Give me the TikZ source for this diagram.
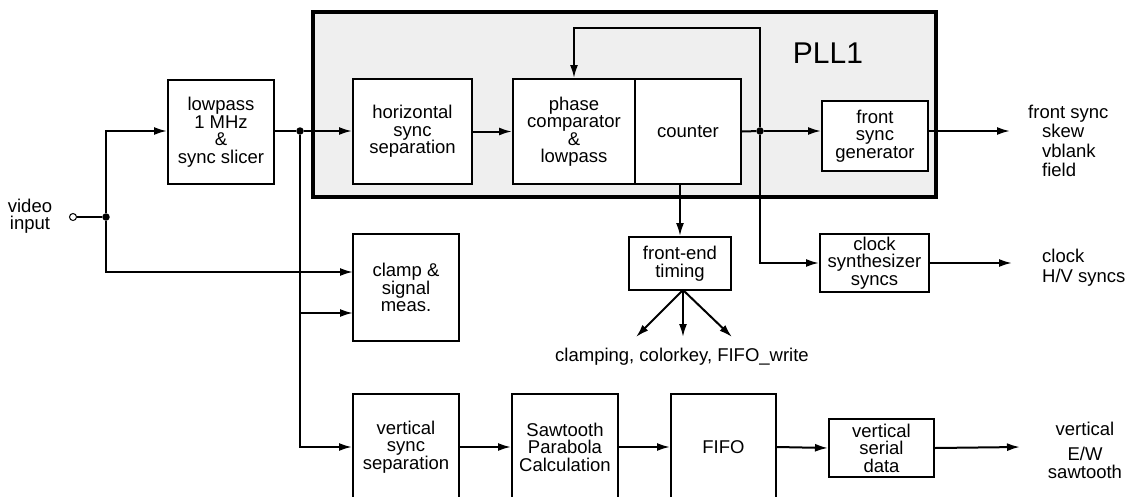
\documentclass[tikz,border=0pt]{standalone}
\usepackage{fontspec}
\setmainfont{Liberation Sans}
\usetikzlibrary{arrows.meta}
\definecolor{pllgray}{HTML}{EFEFEF}
\tikzset{
  blk/.style={draw, line width=2pt, fill=white, inner sep=0pt, align=center,
    font=\fontsize{18.5}{17.5}\selectfont},
  lbl/.style={inner sep=0pt, font=\fontsize{18.5}{17.5}\selectfont},
  wire/.style={line width=2pt},
  arr/.style={wire, -{Latex[length=13pt,width=8pt]}},
  dot/.style={circle, fill=black, inner sep=0pt, minimum size=7.5pt},
}
\begin{document}
\begin{tikzpicture}[x=1pt,y=-1pt]
\useasboundingbox (0,0) rectangle (1141,496);
\clip (0,0) rectangle (1141,496);
% PLL1 frame
\node[draw, line width=3.4pt, fill=pllgray, inner sep=0pt, minimum width=623pt, minimum height=185pt] (pll) at (624.5,104.5) {};
\node[inner sep=0pt, font=\fontsize{30}{30}\selectfont] (plllbl) at (828,53) {PLL1};
% blocks
\node[blk, minimum width=106pt, minimum height=104pt] (lp) at (221,132) {lowpass\\1 MHz\\\&\\sync slicer};
\node[blk, minimum width=119pt, minimum height=105pt] (hs) at (412.5,131.5) {horizontal\\sync\\separation};
\node[blk, minimum width=122pt, minimum height=105pt] (pc) at (574,131.5) {phase\\comparator\\\&\\lowpass};
\node[blk, minimum width=106pt, minimum height=105pt] (cnt) at (688,131.5) {counter};
\node[blk, minimum width=106pt, minimum height=70pt] (fs) at (875,136) {front\\sync\\generator};
\node[blk, minimum width=102pt, minimum height=53pt] (fe) at (680,263.5) {front-end\\timing};
\node[blk, minimum width=109pt, minimum height=58pt] (cs) at (874.5,263) {clock\\synthesizer\\syncs};
\node[blk, minimum width=106pt, minimum height=107pt] (cl) at (406,287.5) {clamp \&\\signal\\meas.};
\node[blk, minimum width=106pt, minimum height=106pt] (vs) at (406,447) {vertical\\sync\\separation};
\node[blk, minimum width=106pt, minimum height=106pt] (saw) at (565,447) {Sawtooth\\Parabola\\Calculation};
\node[blk, minimum width=105pt, minimum height=106pt] (fifo) at (723.5,447) {FIFO};
\node[blk, minimum width=105pt, minimum height=58pt] (vsd) at (881.5,448) {vertical\\serial\\data};
% text labels
\node[lbl, align=center] (vin) at (30,216) {video\\input};
\node[lbl, align=left, anchor=west, font=\fontsize{18.5}{19.4}\selectfont] (fsout) at (1028,141) {front sync\\\hspace*{14pt}skew\\\hspace*{14pt}vblank\\\hspace*{14pt}field};
\node[lbl, align=left, anchor=west, font=\fontsize{18.5}{20}\selectfont] (csout) at (1042,268) {clock\\H/V syncs};
\node[lbl, align=center] (vout) at (1085,450) {vertical\\[8pt]E/W\\sawtooth};
\node[lbl] (feout) at (682,357) {clamping, colorkey, FIFO\_write};
% junctions and coordinates
\node[circle, draw, fill=white, line width=1pt, inner sep=0pt, minimum size=7pt] (inc) at (73,217) {};
\node[dot] (d1) at (106,217) {};
\node[dot] (d2) at (300,131) {};
\node[dot] (d3) at (760,131) {};
\coordinate (clin1) at (353,272);
\coordinate (clin2) at (353,313);
\coordinate (fb) at (760,28);
\coordinate (fan) at (683,290);
\coordinate (t1) at (636,337);
\coordinate (t2) at (683,337);
\coordinate (t3) at (732,337);
\coordinate (o1) at (1010,131);
\coordinate (o2) at (1012,263);
\coordinate (o3) at (1020,447);
% connectors
\draw[wire] (inc) -- (d1);
\draw[arr] (d1) |- (lp.west |- d2);
\draw[arr] (d1) |- (clin1);
\draw[wire] (lp.east |- d2) -- (d2);
\draw[arr] (d2) -- (hs.west |- d2);
\draw[arr] (d2) |- (vs.west);
\draw[arr] (d2 |- clin2) -- (clin2);
\draw[arr] (hs.east) -- (pc.west);
\draw[wire] (cnt.east) -- (d3);
\draw[arr] (d3) -- (fs.west |- d3);
\draw[arr] (d3) -- (fb) -| (pc.north);
\draw[arr] (d3) |- (cs.west);
\draw[arr] (fe.north |- cnt.south) -- (fe.north);
\draw[arr] (fs.east |- o1) -- (o1);
\draw[arr] (cs.east) -- (o2);
\draw[arr] (fan) -- (t1);
\draw[arr] (fan) -- (t2);
\draw[arr] (fan) -- (t3);
\draw[arr] (vs.east) -- (saw.west);
\draw[arr] (saw.east) -- (fifo.west);
\draw[arr] (fifo.east) -- (vsd.west);
\draw[arr] (vsd.east) -- (o3);
\end{tikzpicture}
\end{document}
